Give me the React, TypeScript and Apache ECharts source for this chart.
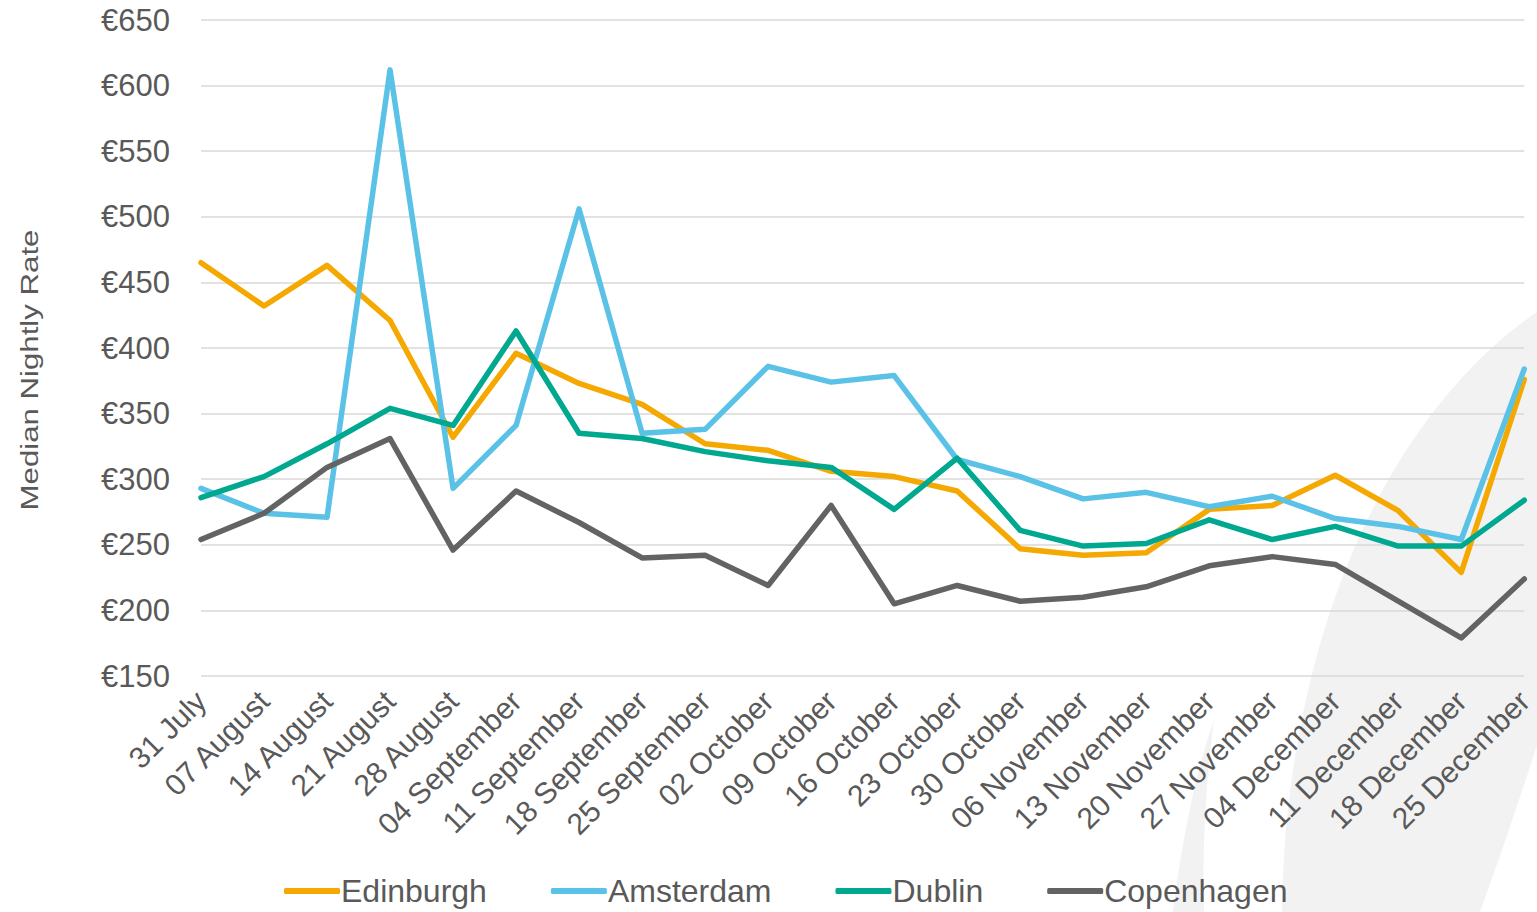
import React, { useEffect, useRef } from "react";
import * as echarts from "echarts";

const weeks = [
  "31 July", "07 August", "14 August", "21 August", "28 August",
  "04 September", "11 September", "18 September", "25 September",
  "02 October", "09 October", "16 October", "23 October", "30 October",
  "06 November", "13 November", "20 November", "27 November",
  "04 December", "11 December", "18 December", "25 December",
];

const edinburgh = [465, 432, 463, 421, 332, 396, 373, 357, 327, 322, 306, 302, 291, 247, 242, 244, 277, 280, 303, 276, 229, 376];
const amsterdam = [293, 274, 271, 612, 293, 341, 506, 335, 338, 386, 374, 379, 315, 302, 285, 290, 279, 287, 270, 264, 254, 384];
const dublin = [286, 302, 327, 354, 341, 413, 335, 331, 321, 314, 309, 277, 316, 261, 249, 251, 269, 254, 264, 249, 249, 284];
const copenhagen = [254, 274, 309, 331, 246, 291, 267, 240, 242, 219, 280, 205, 219, 207, 210, 218, 234, 241, 235, 207, 179, 224];

const seriesNames = ["Edinburgh", "Amsterdam", "Dublin", "Copenhagen"];
const seriesData = [edinburgh, amsterdam, dublin, copenhagen];
const seriesColors = ["#F5A800", "#5BC2E7", "#00A88F", "#636363"];

const yMin = 150;
const yMax = 650;
const yStep = 50;

const FONT = "'Liberation Sans', Arial, sans-serif";
const TEXT = "#595959";

let registered = false;
function registerShapes() {
  if (registered) return;
  registered = true;
  echarts.graphic.registerShape(
    "bandShape",
    echarts.graphic.extendPath(
      "M 1537 312 C 1380 420 1285 650 1282 912 L 1480 912 Q 1510 830 1537 745 Z",
      {}
    ) as any
  );
  echarts.graphic.registerShape(
    "sliverShape",
    echarts.graphic.extendPath(
      "M 1173 912 C 1182 840 1196 770 1214 720 C 1206 780 1202 850 1204 912 Z",
      {}
    ) as any
  );
}

export default function App() {
  const ref = useRef<HTMLDivElement>(null);

  useEffect(() => {
    if (!ref.current) return;
    registerShapes();
    const chart = echarts.init(ref.current, undefined, { renderer: "svg" });
    chart.setOption({
      animation: false,
      backgroundColor: "#FFFFFF",
      textStyle: { fontFamily: FONT },
      graphic: [
        { type: "bandShape", x: 0, y: 0, z: -100, silent: true, style: { fill: "#F2F2F2" } },
        { type: "sliverShape", x: 0, y: 0, z: -100, silent: true, style: { fill: "#F2F2F2" } },
        {
          type: "text",
          x: 30,
          y: 370,
          rotation: Math.PI / 2,
          scaleX: 1.3,
          style: {
            text: "Median Nightly Rate",
            fontSize: 24,
            fontFamily: FONT,
            fill: TEXT,
            textAlign: "center",
            textVerticalAlign: "middle",
          },
        },
      ],
      grid: { left: 201, right: 8, top: 20, bottom: 236, containLabel: false },
      legend: {
        left: 279,
        top: 870,
        itemGap: 64,
        itemWidth: 56,
        itemHeight: 6,
        icon: "roundRect",
        textStyle: { fontSize: 32, lineHeight: 32, color: TEXT, fontFamily: FONT, padding: [0, 0, 0, -4] },
        data: seriesNames,
      },
      xAxis: {
        type: "category",
        data: weeks,
        boundaryGap: false,
        axisLine: { show: false },
        axisTick: { show: false },
        axisLabel: {
          rotate: 45,
          interval: 0,
          margin: 20,
          fontSize: 30,
          color: TEXT,
          fontFamily: FONT,
        },
      },
      yAxis: {
        type: "value",
        min: yMin,
        max: yMax,
        interval: yStep,
        axisLine: { show: false },
        axisTick: { show: false },
        axisLabel: {
          margin: 31,
          fontSize: 31,
          color: TEXT,
          fontFamily: FONT,
          formatter: (v: number) => "€" + v,
        },
        splitLine: { lineStyle: { color: "#D9D9D9", width: 1.5 } },
      },
      series: seriesNames.map((name, i) => ({
        name,
        type: "line",
        data: seriesData[i],
        symbol: "none",
        color: seriesColors[i],
        lineStyle: { color: seriesColors[i], width: 5.5, cap: "round", join: "round" },
      })),
    });
    return () => chart.dispose();
  }, []);

  return (
    <div
      ref={ref}
      style={{ position: "fixed", left: 0, top: 0, width: "1537px", height: "912px", background: "#fff" }}
    />
  );
}
